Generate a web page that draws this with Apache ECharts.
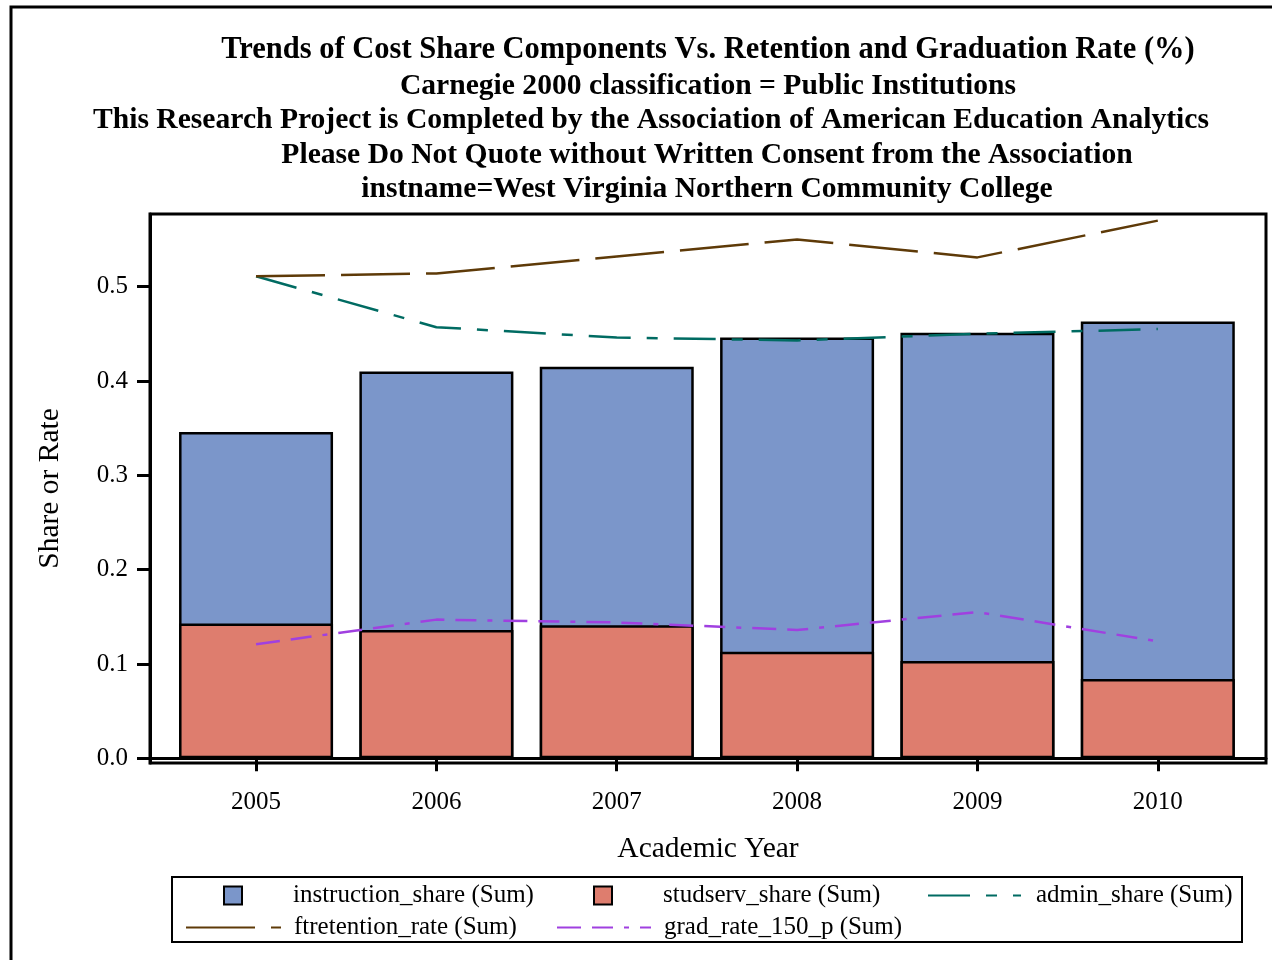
<!DOCTYPE html>
<html>
<head>
<meta charset="utf-8">
<script src="https://cdn.jsdelivr.net/npm/echarts@6/dist/echarts.min.js"></script>
<style>
html,body{margin:0;padding:0;background:#fff;}
#chart{width:1272px;height:960px;}
</style>
</head>
<body>
<div id="chart"></div>
<script>
// ---- data ----
const years = [2005, 2006, 2007, 2008, 2009, 2010];
const instructionShare = [0.346, 0.410, 0.415, 0.446, 0.451, 0.463];
const studservShare = [0.143, 0.136, 0.141, 0.113, 0.103, 0.084];
const adminShare = [0.511, 0.457, 0.446, 0.443, 0.450, 0.455];
const ftretentionRate = [0.511, 0.514, 0.532, 0.550, 0.531, 0.570];
const gradRate150 = [0.121, 0.147, 0.144, 0.136, 0.155, 0.124];
const yTicks = [0, 0.1, 0.2, 0.3, 0.4, 0.5];
const titleLines = [
  'Trends of Cost Share Components Vs. Retention and Graduation Rate (%)',
  'Carnegie 2000 classification = Public Institutions',
  'This Research Project is Completed by the Association of American Education Analytics',
  'Please Do Not Quote without Written Consent from the Association',
  'instname=West Virginia Northern Community College'
];
const seriesNames = ['instruction_share (Sum)', 'studserv_share (Sum)', 'admin_share (Sum)', 'ftretention_rate (Sum)', 'grad_rate_150_p (Sum)'];

const FONT = "'Liberation Serif','Times New Roman',serif";
const pair = arr => years.map((y, i) => [y, arr[i]]);

const titleX = [708, 708, 651, 707, 707];
const titleY = [50, 86, 120, 155, 189];
const titleSize = [30.5, 29.6, 29.6, 29.6, 29.6];
const graphics = titleLines.map((t, i) => ({
  type: 'text', x: titleX[i], y: titleY[i],
  style: { text: t, font: 'bold ' + titleSize[i] + 'px ' + FONT, fill: '#000', align: 'center', verticalAlign: 'middle' }
}));
graphics.push({ type: 'rect', shape: { x: 11, y: 7, width: 1400, height: 1100 }, style: { fill: 'none', stroke: '#000', lineWidth: 3 }, z: -1 });
graphics.push({ type: 'rect', shape: { x: 172, y: 877, width: 1070, height: 65 }, style: { fill: 'none', stroke: '#000', lineWidth: 2 } });

function lg(name, left, top, w, h, pad, isLine) {
  const o = {
    data: [name], left: left, top: top, itemWidth: w, itemHeight: h, padding: 0,
    selectedMode: false,
    textStyle: { fontFamily: FONT, fontSize: 25, color: '#000', padding: [0, 0, 0, pad] }
  };
  if (isLine) { o.itemStyle = { opacity: 0 }; } else { o.icon = 'rect'; }
  return o;
}

const chart = echarts.init(document.getElementById('chart'));
chart.setOption({
  animation: false,
  backgroundColor: '#fff',
  graphic: graphics,
  legend: [
    lg(seriesNames[0], 223, 883, 18, 18, 46, false),
    lg(seriesNames[1], 593, 883, 18, 18, 46, false),
    lg(seriesNames[2], 927, 883, 93, 14, 10, true),
    lg(seriesNames[3], 185, 915, 95, 14, 8, true),
    lg(seriesNames[4], 556, 915, 94, 14, 8, true)
  ],
  grid: { left: 150, right: 6, top: 214, bottom: 197, show: true, borderColor: '#000', borderWidth: 3, containLabel: false },
  xAxis: {
    type: 'value', min: 2004.412, max: 2010.6,
    name: 'Academic Year', nameLocation: 'middle', nameGap: 71,
    nameTextStyle: { fontFamily: FONT, fontSize: 29.5, color: '#000' },
    axisLine: { lineStyle: { color: '#000', width: 3 } },
    axisTick: { show: true, length: 13, lineStyle: { color: '#000', width: 3 }, customValues: years },
    axisLabel: { customValues: years, margin: 27, fontFamily: FONT, fontSize: 25, color: '#000', formatter: v => String(Math.round(v)) },
    splitLine: { show: false }
  },
  yAxis: {
    type: 'value', min: -0.005, max: 0.577,
    name: 'Share or Rate', nameLocation: 'middle', nameGap: 85,
    nameTextStyle: { fontFamily: FONT, fontSize: 29.5, color: '#000' },
    axisLine: { show: true, lineStyle: { color: '#000', width: 3 } },
    axisTick: { show: true, length: 13, lineStyle: { color: '#000', width: 3 }, customValues: yTicks },
    axisLabel: { customValues: yTicks, margin: 22, fontFamily: FONT, fontSize: 25, color: '#000', formatter: v => v.toFixed(1) },
    splitLine: { show: false }
  },
  series: [
    { name: seriesNames[0], type: 'bar', data: pair(instructionShare), barWidth: 154, barGap: '-100%',
      itemStyle: { color: '#7b96ca', borderColor: '#000', borderWidth: 2.5 } },
    { name: seriesNames[1], type: 'bar', data: pair(studservShare), barWidth: 154, barGap: '-100%',
      itemStyle: { color: '#de7d6e', borderColor: '#000', borderWidth: 2.5 } },
    { name: seriesNames[2], type: 'line', data: pair(adminShare), symbol: 'none', z: 5,
      lineStyle: { color: '#006b62', width: 2.5, type: [42, 16, 11, 16] }, itemStyle: { color: '#006b62' } },
    { name: seriesNames[3], type: 'line', data: pair(ftretentionRate), symbol: 'none', z: 5,
      lineStyle: { color: '#5e3a08', width: 2.5, type: [69, 16] }, itemStyle: { color: '#5e3a08' } },
    { name: seriesNames[4], type: 'line', data: pair(gradRate150), symbol: 'none', z: 5,
      lineStyle: { color: '#a040e0', width: 2.5, type: [24, 11, 21, 11, 5, 11] }, itemStyle: { color: '#a040e0' } }
  ]
});
</script>
</body>
</html>
